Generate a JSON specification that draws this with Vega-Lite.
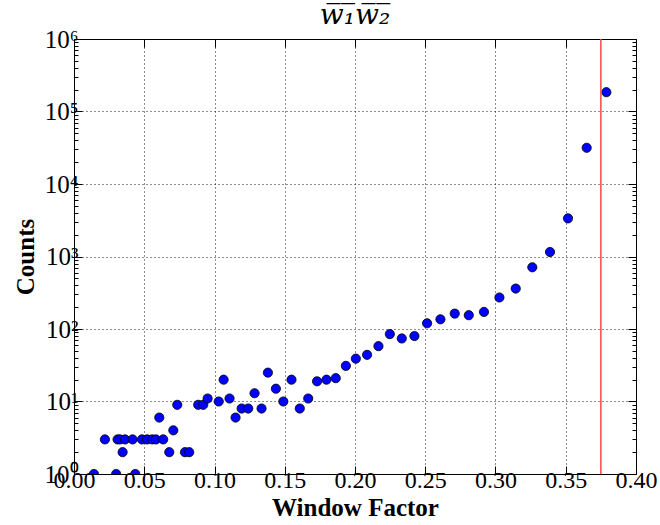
{
  "$schema": "https://vega.github.io/schema/vega-lite/v6.json",
  "autosize": "none",
  "width": 562,
  "height": 435,
  "padding": {"left": 74, "top": 39, "right": 24, "bottom": 51},
  "background": "white",
  "config": {
    "view": {"stroke": "black", "strokeWidth": 1},
    "font": "Liberation Serif"
  },
  "title": {
    "text": "w̅₁̅w̅₂̅",
    "font": "DejaVu Serif",
    "fontStyle": "italic",
    "fontWeight": "normal",
    "fontSize": 28,
    "color": "black",
    "anchor": "middle",
    "frame": "group",
    "offset": -3
  },
  "data": {
    "values": [
      {"x": 0.0142, "count": 1}, {"x": 0.022, "count": 3}, {"x": 0.030, "count": 1},
      {"x": 0.031, "count": 3}, {"x": 0.0327, "count": 3}, {"x": 0.0346, "count": 2},
      {"x": 0.0363, "count": 3}, {"x": 0.0417, "count": 3}, {"x": 0.0436, "count": 1},
      {"x": 0.0484, "count": 3}, {"x": 0.0521, "count": 3}, {"x": 0.0557, "count": 3},
      {"x": 0.0583, "count": 3}, {"x": 0.0607, "count": 6}, {"x": 0.0635, "count": 3},
      {"x": 0.0678, "count": 2}, {"x": 0.0707, "count": 4}, {"x": 0.0735, "count": 9},
      {"x": 0.079, "count": 2}, {"x": 0.082, "count": 2}, {"x": 0.0884, "count": 9},
      {"x": 0.092, "count": 9}, {"x": 0.0951, "count": 11}, {"x": 0.103, "count": 10},
      {"x": 0.1065, "count": 20}, {"x": 0.1107, "count": 11}, {"x": 0.115, "count": 6},
      {"x": 0.1193, "count": 8}, {"x": 0.124, "count": 8}, {"x": 0.1285, "count": 13},
      {"x": 0.1335, "count": 8}, {"x": 0.138, "count": 25}, {"x": 0.1437, "count": 15},
      {"x": 0.149, "count": 10}, {"x": 0.1548, "count": 20}, {"x": 0.1607, "count": 8},
      {"x": 0.1667, "count": 11}, {"x": 0.173, "count": 19}, {"x": 0.1797, "count": 20},
      {"x": 0.1863, "count": 21}, {"x": 0.1935, "count": 31}, {"x": 0.2006, "count": 39},
      {"x": 0.2086, "count": 44}, {"x": 0.2167, "count": 58}, {"x": 0.2248, "count": 85},
      {"x": 0.2333, "count": 74}, {"x": 0.2423, "count": 80}, {"x": 0.2513, "count": 120},
      {"x": 0.2608, "count": 136}, {"x": 0.271, "count": 163}, {"x": 0.281, "count": 155},
      {"x": 0.2918, "count": 172}, {"x": 0.3028, "count": 272}, {"x": 0.3144, "count": 361},
      {"x": 0.3262, "count": 710}, {"x": 0.3388, "count": 1153}, {"x": 0.3516, "count": 3357},
      {"x": 0.3649, "count": 31600}, {"x": 0.3789, "count": 184500}
    ]
  },
  "layer": [
    {
      "mark": {"type": "point", "filled": true, "fill": "#0000ff", "stroke": "black", "strokeWidth": 0.8, "opacity": 1, "size": 85, "clip": true},
      "encoding": {
        "x": {
          "field": "x", "type": "quantitative",
          "scale": {"domain": [0, 0.4], "nice": false, "zero": false},
          "axis": {
            "title": "Window Factor",
            "titleFont": "Liberation Serif", "titleFontWeight": "bold", "titleFontSize": 25, "titleColor": "black", "titlePadding": 3,
            "values": [0, 0.05, 0.1, 0.15, 0.2, 0.25, 0.3, 0.35, 0.4],
            "format": ".2f",
            "labelFont": "Liberation Serif", "labelFontSize": 24, "labelColor": "black", "labelPadding": 2,
            "labelFlush": false, "labelOverlap": false,
            "tickSize": -8, "tickColor": "black", "tickWidth": 1,
            "domain": false,
            "grid": true, "gridColor": "black", "gridDash": [1, 3], "gridWidth": 0.9, "gridOpacity": 1
          }
        },
        "y": {
          "field": "count", "type": "quantitative",
          "scale": {"type": "log", "domain": [1, 1000000], "nice": false},
          "axis": {
            "title": "Counts",
            "titleFont": "Liberation Serif", "titleFontWeight": "bold", "titleFontSize": 25, "titleColor": "black", "titlePadding": 6,
            "values": [1,2,3,4,5,6,7,8,9,10,20,30,40,50,60,70,80,90,100,200,300,400,500,600,700,800,900,1000,2000,3000,4000,5000,6000,7000,8000,9000,10000,20000,30000,40000,50000,60000,70000,80000,90000,100000,200000,300000,400000,500000,600000,700000,800000,900000,1000000],
            "labelExpr": "abs(log(datum.value)/LN10 - round(log(datum.value)/LN10)) < 0.000001 ? '10' + ['⁰','¹','²','³','⁴','⁵','⁶'][round(log(datum.value)/LN10)] : ''",
            "labelFont": "Liberation Serif", "labelFontSize": 25, "labelColor": "black", "labelPadding": 4,
            "labelFlush": false, "labelOverlap": false,
            "tickSize": {"condition": {"test": "abs(log(datum.value)/LN10 - round(log(datum.value)/LN10)) < 0.000001", "value": -8}, "value": -4},
            "tickColor": "black", "tickWidth": 1,
            "domain": false,
            "grid": true, "gridColor": "black", "gridDash": [1, 3], "gridWidth": 0.9,
            "gridOpacity": {"condition": {"test": "abs(log(datum.value)/LN10 - round(log(datum.value)/LN10)) < 0.000001", "value": 1}, "value": 0}
          }
        }
      }
    },
    {
      "data": {"values": [{"limit": 0.375}]},
      "mark": {"type": "rule", "color": "#ff4444", "strokeWidth": 1.5},
      "encoding": {
        "x": {
          "field": "limit", "type": "quantitative",
          "axis": {
            "orient": "top", "title": null, "labels": false, "domain": false, "grid": false,
            "values": [0, 0.05, 0.1, 0.15, 0.2, 0.25, 0.3, 0.35, 0.4],
            "tickSize": -8, "tickColor": "black", "tickWidth": 1
          }
        }
      }
    },
    {
      "mark": {"type": "point", "opacity": 0},
      "encoding": {
        "x": {"field": "x", "type": "quantitative", "axis": null},
        "y": {
          "field": "count", "type": "quantitative",
          "axis": {
            "orient": "right", "title": null, "labels": false, "domain": false, "grid": false,
            "values": [1,2,3,4,5,6,7,8,9,10,20,30,40,50,60,70,80,90,100,200,300,400,500,600,700,800,900,1000,2000,3000,4000,5000,6000,7000,8000,9000,10000,20000,30000,40000,50000,60000,70000,80000,90000,100000,200000,300000,400000,500000,600000,700000,800000,900000,1000000],
            "tickSize": {"condition": {"test": "abs(log(datum.value)/LN10 - round(log(datum.value)/LN10)) < 0.000001", "value": -8}, "value": -4},
            "tickColor": "black", "tickWidth": 1
          }
        }
      }
    }
  ],
  "resolve": {"axis": {"x": "independent", "y": "independent"}}
}
